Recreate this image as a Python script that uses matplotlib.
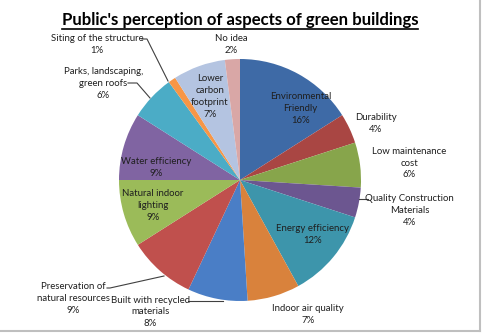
import matplotlib
matplotlib.use('Agg')
from matplotlib import pyplot as plt
from matplotlib.lines import Line2D

plt.rcParams['font.family'] = ['Lato', 'DejaVu Sans']

# dane - kolejność zgodnie z ruchem wskazówek zegara, od góry
categories = ['Environmental\nFriendly', 'Durability', 'Low maintenance\ncost',
              'Quality Construction\nMaterials', 'Energy efficiency', 'Indoor air quality',
              'Built with recycled\nmaterials', 'Preservation of\nnatural resources',
              'Natural indoor\nlighting', 'Water efficiency', 'Parks, landscaping,\ngreen roofs',
              'Siting of the structure', 'Lower\ncarbon\nfootprint', 'No idea']
values = [16, 4, 6, 4, 12, 7, 8, 9, 9, 9, 6, 1, 7, 2]

colors = ['#3E6AA6', '#A94643', '#87A54B', '#6C5690', '#3D95AB', '#D9823C',
          '#4A7EC6', '#C0504D', '#9BBB59', '#8064A2', '#4BACC6', '#F79646',
          '#B4C4E1', '#D9A7A6']

# pozycje etykiet (w promieniach koła)
label_pos = [(0.50, 0.59), (1.12, 0.47), (1.40, 0.14), (1.40, -0.25),
             (0.60, -0.45), (0.56, -1.11), (-0.74, -1.09), (-1.38, -0.98),
             (-0.72, -0.21), (-0.69, 0.10), (-1.13, 0.80), (-1.18, 1.12),
             (-0.25, 0.69), (-0.07, 1.12)]

# linie odniesienia (piksele -> jednostki promienia)
R = 121.0
CX, CY = 240.0, 180.0
leaders = [
    [(142, 39), (147, 39), (168, 81)],
    [(128, 83), (137, 83), (150, 98)],
    [(107, 288), (110, 288), (164, 276)],
    [(188, 301), (223, 301)],
    [(359, 199), (368, 199)],
]

fig = plt.figure(figsize=(4.82, 3.33), dpi=100)
ax = fig.add_axes([0, 0, 1, 1])

ax.pie(values, colors=colors, startangle=90, counterclock=False, radius=1,
       center=(0, 0), frame=True, wedgeprops=dict(linewidth=0))
ax.set_xlim(-CX / R, (482 - CX) / R)
ax.set_ylim(-(333 - CY) / R, CY / R)
ax.set_aspect('auto')
ax.axis('off')

total = sum(values)
for name, v, (x, y) in zip(categories, values, label_pos):
    ax.text(x, y, '%s\n%d%%' % (name, round(100 * v / total)), ha='center', va='center',
            fontsize=6.9, color='#1F1F1F', linespacing=1.4)

for pts in leaders:
    xs = [(p[0] - CX) / R for p in pts]
    ys = [(CY - p[1]) / R for p in pts]
    ax.plot(xs, ys, color='#404040', lw=0.8)

t = fig.text(240 / 482, 1 - 20 / 333, "Public's perception of aspects of green buildings",
             ha='center', va='center', fontsize=12.1, fontweight='bold', color='black')
fig.canvas.draw()
bb = t.get_window_extent()
uy = bb.y0 - 1
fig.add_artist(Line2D([bb.x0 / 482, bb.x1 / 482], [uy / 333, uy / 333],
                      transform=fig.transFigure, color='black', lw=1.2))

# ramka - tylko prawa i dolna krawędź widoczna
fig.add_artist(Line2D([480 / 482, 480 / 482], [1, 2 / 333], transform=fig.transFigure,
                      color='#BFBFBF', lw=1.5))
fig.add_artist(Line2D([0, 480 / 482], [2 / 333, 2 / 333], transform=fig.transFigure,
                      color='#BFBFBF', lw=1.5))

fig.savefig('out.png', dpi=100)
